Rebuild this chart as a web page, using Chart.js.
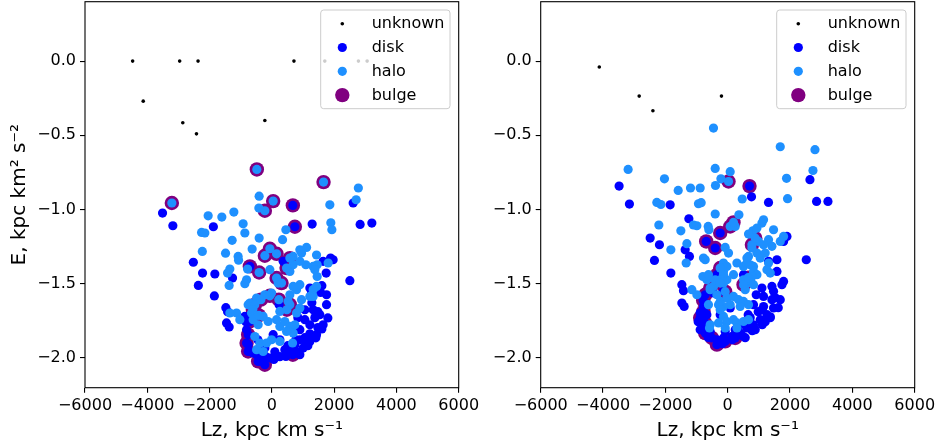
<!DOCTYPE html>
<html>
<head>
<meta charset="utf-8">
<script src="https://cdn.jsdelivr.net/npm/chart.js@4.4.0/dist/chart.umd.min.js"></script>
<style>
  body { margin: 0; background: #fff; }
  #wrap { position: relative; width: 947px; height: 446px; overflow: hidden; }
  canvas { position: absolute; top: -6px; }
</style>
</head>
<body>
<div id="wrap">
  <canvas id="left" width="500" height="452" style="left:0;width:500px;height:452px"></canvas>
  <canvas id="right" width="477" height="452" style="left:470px;width:477px;height:452px"></canvas>
</div>
<script>
// tick labels
const xTicks = [-6000, -4000, -2000, 0, 2000, 4000, 6000]
const yTicks = [0, -0.5, -1, -1.5, -2]
const seriesLabels = ['unknown', 'disk', 'halo', 'bulge']
const seriesColors = ['#000000', '#0000ff', '#1e90ff', '#800080']

// left panel: [Lz, E]
const leftUnknown = [[-4470,0],[-2960,0],[-2370,0],[710,0],[1700,0],[2780,0],[3060,0],[-4130,-0.27],[-2860,-0.415],[-2420,-0.49],[-225,-0.40]]
const leftDisk = [[-3510,-1.024],[-3179,-1.109],[-1878,-1.116],[674,-0.972],[739,-1.116],[1294,-1.098],[2611,-0.956],[2835,-1.100],[3211,-1.091],[-2521,-1.355],
  [-2225,-1.428],[-1830,-1.434],[-2360,-1.511],[-1846,-1.582],[-1262,-1.461],[-706,-1.383],[-1477,-1.661],[-1422,-1.688],[-1455,-1.764],[-1371,-1.791],
  [2505,-1.479],[1885,-1.327],[1744,-1.428],[1606,-1.513],[1756,-1.641],[1564,-1.558],[1647,-1.349],[234,-1.641],[-867,-1.720],[-812,-1.809],
  [-761,-1.910],[-706,-1.956],[-491,-1.978],[-331,-2.023],[-64,-2.000],[151,-1.989],[472,-1.978],[793,-1.966],[1005,-1.933],[1220,-1.888],
  [1435,-1.843],[1647,-1.776],[1541,-1.708],[1326,-1.675],[1756,-1.574],[1220,-1.529],[1275,-1.562],[363,-1.349],[42,-1.843],[257,-1.877],
  [899,-1.978],[-600,-1.966],[-225,-1.933],[1060,-1.742],[899,-1.809],[1220,-1.776],[1060,-1.863],[739,-1.910],[417,-1.944],[1381,-1.728],
  [1477,-1.795],[835,-1.728],[578,-1.944],[96,-1.958],[1060,-1.675],[1284,-1.628],[899,-1.877],[257,-1.991],[-193,-1.991],[-835,-1.755],
  [-450,-1.877],[1968,-1.338],
  [-706,-1.754],[-761,-1.843],[-812,-1.899],[-761,-1.956],[-440,-2.023],[-225,-2.045],[674,-1.978],
  [-321,-2.010],[64,-2.010],[450,-1.990],[835,-1.958],[1156,-1.917],[1413,-1.864],[1606,-1.804],[1798,-1.730],[1220,-1.837],[1477,-1.688],
  [514,-1.917],[1092,-1.910],[771,-1.877]]
const leftHalo = [[-482,-0.730],[1660,-0.815],[-3211,-0.956],[2778,-0.855],[2707,-0.934],[-408,-0.910],[42,-0.943],[-417,-0.990],[-225,-1.008],[1862,-0.968],
  [-2045,-1.042],[-1606,-1.051],[-1220,-1.017],[-922,-1.096],[-867,-1.158],[1894,-1.089],[1927,-1.136],[-2257,-1.154],[-2151,-1.158],[450,-1.136],
  [-408,-1.192],[344,-1.203],[-1275,-1.207],[-2232,-1.282],[-1487,-1.294],[-1082,-1.316],[-633,-1.266],[-64,-1.264],[-225,-1.311],[151,-1.298],
  [1114,-1.255],[954,-1.293],[1435,-1.306],[684,-1.316],[-1069,-1.341],[-1349,-1.401],[-1422,-1.428],[-1371,-1.511],[-780,-1.401],[-408,-1.424],
  [899,-1.271],[1455,-1.372],[1092,-1.372],[1326,-1.383],[1455,-1.451],[1435,-1.518],[1326,-1.540],[1326,-1.585],[1808,-1.360],[-1133,-1.697],
  [-1028,-1.742],[-761,-1.641],[665,-1.899],[-491,-1.944],[-812,-1.473],[-867,-1.499],[-64,-1.405],[151,-1.461],[202,-1.495],[-225,-1.574],
  [-10,-1.562],[-491,-1.596],[-706,-1.630],[578,-1.417],[684,-1.372],[899,-1.349],[1381,-1.405],[578,-1.574],[793,-1.540],[899,-1.506],
  [684,-1.518],[523,-1.619],[954,-1.607],[1220,-1.585],[-652,-1.697],[-600,-1.742],[-440,-1.776],[-279,-1.720],[-119,-1.754],[151,-1.742],
  [257,-1.787],[417,-1.754],[578,-1.787],[739,-1.776],[684,-1.832],[472,-1.821],[-546,-1.855],[-385,-1.899],[-170,-1.899],[-10,-1.877],
  [257,-1.888],[-279,-1.956],[-1349,-1.697],[257,-1.686],[899,-1.663],[793,-1.697],
  [-546,-1.641],[-353,-1.607],[225,-1.607],[-417,-1.713],[578,-1.641],[482,-1.675],[472,-1.394],[578,-1.327],[-610,-1.675],[-64,-1.581],[311,-1.495]]
const leftBulge = [[-482,-0.730],[1660,-0.815],[-3211,-0.956],[674,-0.972],[739,-1.116],[42,-0.943],[-225,-1.008],[-64,-1.264],[151,-1.298],[-225,-1.311],
  [-706,-1.383],[-408,-1.424],[151,-1.461],[311,-1.495],[-546,-1.641],[-353,-1.607],[225,-1.607],[-417,-1.713],[578,-1.641],[482,-1.675],
  [-706,-1.754],[-761,-1.843],[-812,-1.899],[-761,-1.956],[-440,-2.023],[-225,-2.045],[674,-1.978],[472,-1.394],[578,-1.327],
  [-610,-1.675],[-64,-1.581]]

// right panel: [Lz, E]
const rightUnknown = [[-4120,-0.04],[-2840,-0.236],[-2400,-0.335],[-200,-0.236]]
const rightDisk = [[-3484,-0.842],[-3153,-0.963],[-1846,-0.968],[700,-0.842],[764,-0.914],[1310,-0.952],[2639,-0.799],[2851,-0.945],[3217,-0.945],[-1246,-1.062],
  [-2488,-1.192],[-2190,-1.237],[-2351,-1.343],[-1824,-1.428],[-1365,-1.271],[-1227,-1.316],[-1471,-1.506],[-1419,-1.547],[-1471,-1.630],[-1397,-1.653],
  [-690,-1.215],[-401,-1.259],[1310,-1.349],[1580,-1.338],[1792,-1.215],[1901,-1.181],[1580,-1.417],[1792,-1.484],[1740,-1.506],
  [1098,-1.529],[1419,-1.518],[1471,-1.551],[1150,-1.585],[1419,-1.607],[1686,-1.607],[828,-1.641],[1150,-1.653],[1471,-1.663],[1259,-1.708],
  [1044,-1.742],[828,-1.776],[617,-1.798],[401,-1.832],[135,-1.855],[-135,-1.865],[-347,-1.877],[-295,-1.899],[-777,-1.653],[-668,-1.708],
  [-722,-1.776],[-562,-1.821],[80,-1.663],[-241,-1.708],[507,-1.439],[-456,-1.562],[-135,-1.551],[2521,-1.338],[979,-1.688],[658,-1.708],
  [401,-1.776],[241,-1.809],[-80,-1.822],[1204,-1.755],[883,-1.809],[562,-1.863],[1108,-1.675],[1365,-1.728],[-626,-1.862],[-883,-1.695],
  [-947,-1.755],[-883,-1.809],[1525,-1.594],[915,-1.574],
  [-241,-1.158],[-347,-1.439],[-722,-1.574],[-777,-1.686],[-722,-1.764],[-722,-1.832],[-507,-1.865],[-347,-1.910],[-80,-1.888],[241,-1.865],
  [-787,-1.612],[-883,-1.729],
  [-177,-1.904],[145,-1.877],[466,-1.850],[787,-1.816],[1108,-1.776],[1365,-1.722],[1622,-1.661],[722,-1.728]]
const rightHalo = [[-456,-0.451],[1686,-0.577],[2800,-0.597],[-3195,-0.730],[-401,-0.723],[80,-0.745],[2736,-0.737],[-2029,-0.793],[1888,-0.790],[-218,-0.793],
  [26,-0.811],[-1589,-0.871],[-1194,-0.855],[-883,-0.855],[-392,-0.838],[-2274,-0.952],[-2145,-0.966],[-938,-0.961],[-851,-0.954],[466,-0.929],
  [1920,-0.927],[-401,-1.030],[360,-1.035],[-2209,-1.104],[-1098,-1.104],[-989,-1.109],[-626,-1.114],[1150,-1.069],[1098,-1.091],[1471,-1.136],
  [-604,-1.136],[809,-1.143],[668,-1.165],[1792,-1.181],[-1503,-1.143],[-1310,-1.230],[-1824,-1.271],[-777,-1.327],[-722,-1.338],[-1333,-1.360],
  [-80,-1.255],[26,-1.293],[-135,-1.360],[-26,-1.383],[-135,-1.417],[295,-1.360],[507,-1.383],[617,-1.360],[668,-1.316],[938,-1.293],
  [1044,-1.327],[828,-1.383],[938,-1.125],[1310,-1.203],[1419,-1.248],[1686,-1.215],[1204,-1.293],[1310,-1.360],[1259,-1.405],[1365,-1.428],
  [-796,-1.451],[-668,-1.473],[722,-1.473],[617,-1.495],[828,-1.506],[-562,-1.540],[-456,-1.518],[-135,-1.495],[-26,-1.473],[-1150,-1.540],
  [-989,-1.574],[-617,-1.641],[-135,-1.720],[-26,-1.754],[186,-1.742],[295,-1.764],[507,-1.754],[668,-1.742],[-584,-1.798],[-295,-1.764],
  [241,-1.114],[989,-1.215],[1150,-1.237],[777,-1.259],[617,-1.327],[722,-1.372],[828,-1.417],[938,-1.439],[-135,-1.439],[-241,-1.473],
  [186,-1.439],[-401,-1.473],[-617,-1.439],[507,-1.473],[562,-1.540],[-347,-1.574],[-241,-1.619],[-26,-1.596],[186,-1.585],[347,-1.607],
  [507,-1.619],[668,-1.641],[401,-1.653],[80,-1.641],[-135,-1.653],[-295,-1.641],[-241,-1.675],[-562,-1.776],[777,-1.451],[295,-1.798],[-80,-1.798],
  [80,-1.114],[186,-1.087],[777,-1.237],[883,-1.193],[-241,-1.394],[-241,-1.495],[-562,-1.529],[-80,-1.553],[507,-1.506],[658,-1.459]]
const rightBulge = [[26,-0.811],[700,-0.842],[80,-1.114],[186,-1.087],[-241,-1.158],[-690,-1.215],[-401,-1.259],[777,-1.237],[883,-1.193],[-241,-1.394],
  [-347,-1.439],[-241,-1.495],[-562,-1.529],[-722,-1.574],[-777,-1.686],[-722,-1.764],[-722,-1.832],[-507,-1.865],[-347,-1.910],[-80,-1.888],
  [241,-1.865],[-80,-1.553],[507,-1.506],[-787,-1.612],[-883,-1.729],[658,-1.459]]

Chart.defaults.font.family = '"DejaVu Sans", sans-serif'
Chart.defaults.color = '#000'

const minus = s => s.replace('-', '\u2212')

// axes frame + legend box drawn inside the plot area, like matplotlib
const framePlugin = {
  id: 'frame',
  afterDraw(chart) {
    const {ctx, chartArea: a} = chart
    ctx.save()
    ctx.strokeStyle = '#000'
    ctx.lineWidth = 1.1
    ctx.strokeRect(a.left, a.top, a.right - a.left, a.bottom - a.top)

    const bw = 129.3, bh = 98.7, r = 3
    const bx = a.right - 8.7 - bw, by = a.top + 8.3
    ctx.beginPath()
    ctx.moveTo(bx + r, by)
    ctx.arcTo(bx + bw, by, bx + bw, by + bh, r)
    ctx.arcTo(bx + bw, by + bh, bx, by + bh, r)
    ctx.arcTo(bx, by + bh, bx, by, r)
    ctx.arcTo(bx, by, bx + bw, by, r)
    ctx.closePath()
    ctx.fillStyle = 'rgba(255,255,255,0.8)'
    ctx.fill()
    ctx.strokeStyle = '#cccccc'
    ctx.lineWidth = 1
    ctx.stroke()

    ctx.font = '16px "DejaVu Sans"'
    ctx.textBaseline = 'alphabetic'
    chart.data.datasets.forEach((ds, i) => {
      const cy = by + 13.7 + i * 23.8
      ctx.beginPath()
      ctx.arc(bx + 21.6, cy, ds.pointRadius, 0, Math.PI * 2)
      ctx.fillStyle = ds.backgroundColor
      ctx.fill()
      ctx.fillStyle = '#000'
      ctx.fillText(ds.label, bx + 51, cy + 4.6)
    })
    ctx.restore()
  }
}

function makeDatasets(unknown, disk, halo, bulge) {
  const sets = [unknown, disk, halo, bulge]
  const radii = [1.8, 4.6, 4.6, 7.2]
  const orders = [0, 2, 1, 3]
  return sets.map((pts, i) => ({
    label: seriesLabels[i],
    data: pts.map(p => ({x: p[0], y: p[1]})),
    backgroundColor: seriesColors[i],
    borderWidth: 0,
    pointRadius: radii[i],
    pointHoverRadius: radii[i],
    order: orders[i]
  }))
}

function makeChart(id, datasets, yWidth, rightPad, yTitle) {
  return new Chart(document.getElementById(id), {
    type: 'scatter',
    data: {datasets},
    plugins: [framePlugin],
    options: {
      responsive: false,
      animation: false,
      events: [],
      // canvas sits 6px above the page, so 7.7 here is 1.7 on the page
      layout: {padding: {left: 0, top: 7.7, right: rightPad, bottom: 0}},
      plugins: {legend: {display: false}, tooltip: {enabled: false}},
      scales: {
        x: {
          type: 'linear', min: -6000, max: 6000,
          afterBuildTicks: s => { s.ticks = xTicks.map(v => ({value: v})) },
          afterFit: s => { s.height = 58.3; s.paddingLeft = 0; s.paddingRight = 0 },
          grid: {drawOnChartArea: false, drawTicks: true, tickLength: 5, color: '#000', lineWidth: 1.1},
          border: {display: false},
          ticks: {font: {size: 16}, padding: 4, maxRotation: 0, autoSkip: false,
            callback: v => minus(String(v))},
          title: {display: true, text: 'Lz, kpc km s\u207b\u00b9', font: {size: 20}, padding: {top: 4, bottom: 3}}
        },
        y: {
          type: 'linear', min: -2.2, max: 0.4,
          afterBuildTicks: s => { s.ticks = yTicks.map(v => ({value: v})) },
          afterFit: s => { s.width = yWidth; s.paddingTop = 0; s.paddingBottom = 0 },
          grid: {drawOnChartArea: false, drawTicks: true, tickLength: 5, color: '#000', lineWidth: 1.1},
          border: {display: false},
          ticks: {font: {size: 16}, padding: 4, autoSkip: false,
            callback: v => minus(v.toFixed(1))},
          title: {display: yTitle, text: 'E, kpc km\u00b2 s\u207b\u00b2', font: {size: 20}, padding: {top: 8, bottom: 4}}
        }
      }
    }
  })
}

makeChart('left', makeDatasets(leftUnknown, leftDisk, leftHalo, leftBulge), 85, 41.3, true)
makeChart('right', makeDatasets(rightUnknown, rightDisk, rightHalo, rightBulge), 70.7, 32.3, false)
</script>
</body>
</html>
